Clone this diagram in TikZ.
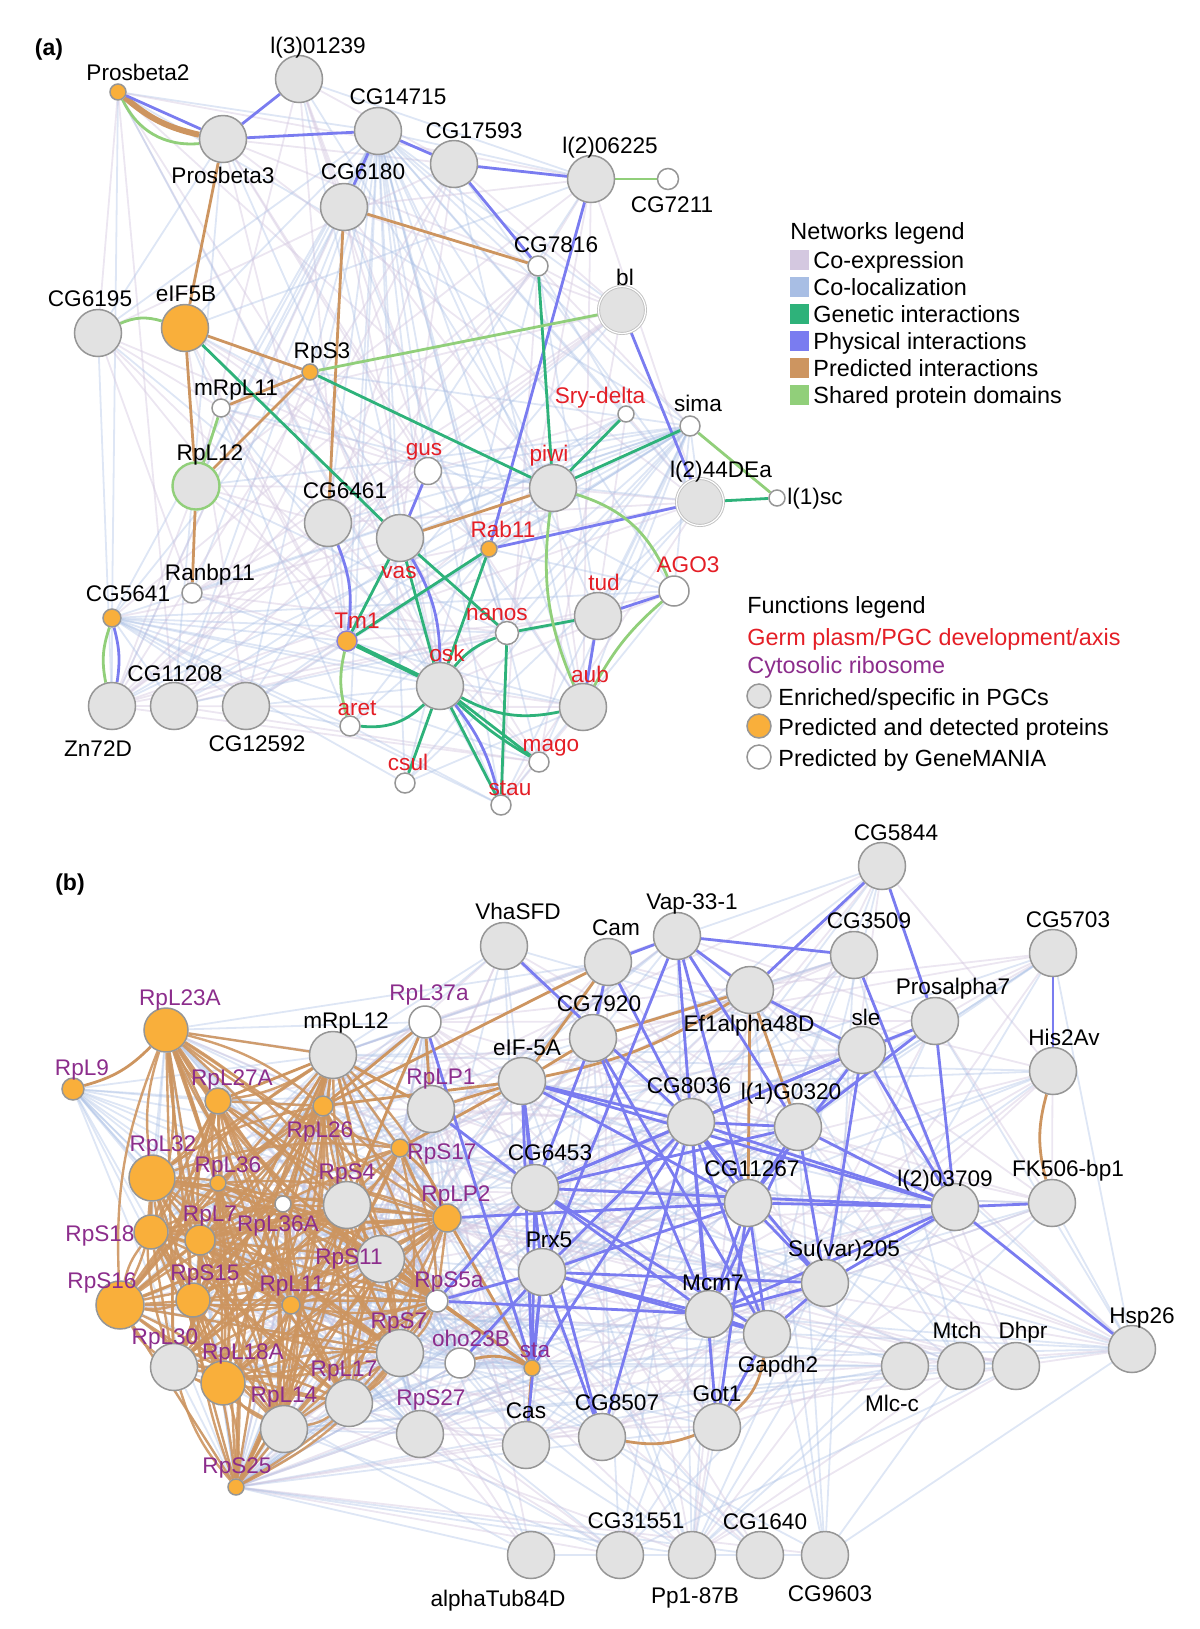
\documentclass[tikz,border=0pt]{standalone}
\usepackage{fontspec}
\setmainfont{Liberation Sans}
\usetikzlibrary{backgrounds}
\definecolor{ngray}{RGB}{150,150,150}
\definecolor{nfill}{RGB}{226,226,226}
\definecolor{norange}{RGB}{249,175,59}
\definecolor{cphys}{RGB}{122,124,240}
\definecolor{cpred}{RGB}{205,149,96}
\definecolor{cgen}{RGB}{46,178,122}
\definecolor{cshare}{RGB}{145,207,122}
\definecolor{ccoexp}{RGB}{212,200,224}
\definecolor{ccoloc}{RGB}{168,190,228}
\definecolor{lred}{RGB}{228,30,38}
\definecolor{lpurp}{RGB}{140,45,140}
\definecolor{tmb}{RGB}{140,130,210}
\tikzset{
 gn/.style={circle,inner sep=0pt,minimum size=23.5pt,fill=nfill,draw=ngray,line width=0.75pt},
 og/.style={gn,fill=norange},
 wn/.style={gn,fill=white},
 dbl/.style={draw=ngray!60,double=white,double distance=0.6pt,line width=0.45pt},
 lab/.style={anchor=base,yshift=-4pt,inner sep=0pt,font=\fontsize{11.3}{13}\selectfont},
 leg/.style={lab,anchor=base west,font=\fontsize{11.7}{13}\selectfont},
 rd/.style={text=lred}, pu/.style={text=lpurp},
 phys/.style={draw=cphys,line width=1.4pt},
 pred/.style={draw=cpred,line width=1.4pt},
 gen/.style={draw=cgen,line width=1.4pt},
 shr/.style={draw=cshare,line width=1.4pt},
 fp/.style={draw=ccoexp,line width=0.9pt,opacity=0.45},
 fb/.style={draw=ccoloc,line width=0.9pt,opacity=0.38},
 sq/.style={inner sep=0pt,minimum width=9.5pt,minimum height=10pt},
}
\newcommand\nd[6]{\node[#1] (#2) at (#3) {}; \node[lab,#6] (#2l) at (#5) {#4};}
\begin{document}
\begin{tikzpicture}[x=0.5pt,y=-0.5pt]
\useasboundingbox (0,0) rectangle (1200,1629);
\node[lab,font=\fontsize{11.5}{13}\selectfont\bfseries] (pa) at (49,47) {(a)};
\node[lab,font=\fontsize{11.5}{13}\selectfont\bfseries] (pb) at (70,882) {(b)};
% ---------------- part (a) nodes
\nd{og,minimum size=8pt}{Prosbeta2}{118,92}{Prosbeta2}{138,72}{}
\nd{gn}{L301239}{299,79}{l(3)01239}{318,45}{}
\nd{gn}{Prosbeta3}{223,139}{Prosbeta3}{223,175}{}
\nd{gn}{CG14715}{378,131}{CG14715}{398,96}{}
\nd{gn}{CG6180}{344,207}{CG6180}{363,171}{}
\nd{gn}{CG17593}{454,164}{CG17593}{474,130}{}
\nd{gn}{L206225}{591,179}{l(2)06225}{610,145}{}
\nd{wn,minimum size=10.5pt}{CG7211}{668,179}{CG7211}{672,204}{}
\nd{wn,minimum size=10pt}{CG7816}{538,266}{CG7816}{556,244}{}
\nd{gn,dbl}{bl}{622,310}{bl}{625,277}{}
\nd{gn}{CG6195}{98,333}{CG6195}{90,298}{}
\nd{og}{eIF5B}{185,328}{eIF5B}{186,293}{}
\nd{og,minimum size=8pt}{RpS3}{310,372}{RpS3}{322,350}{}
\nd{wn,minimum size=9pt}{mRpL11}{221,408}{mRpL11}{236,387}{}
\nd{wn,minimum size=8pt}{Srydelta}{626,414}{Sry-delta}{600,395}{rd}
\nd{wn,minimum size=10pt}{sima}{690,426}{sima}{698,403}{}
\nd{gn,draw=cshare,line width=1.2pt}{RpL12}{196,486}{RpL12}{210,452}{}
\nd{wn,minimum size=13.5pt}{gus}{428,471}{gus}{424,447}{rd}
\nd{gn}{piwi}{553,488}{piwi}{549,453}{rd}
\nd{gn,dbl}{L244DEa}{700,502}{l(2)44DEa}{721,469}{}
\nd{wn,minimum size=8pt}{L1sc}{777,498}{l(1)sc}{815,496}{}
\nd{gn}{CG6461}{328,523}{CG6461}{345,490}{}
\nd{gn}{vas}{400,538}{vas}{399,570}{rd}
\nd{og,minimum size=8pt}{Rab11}{489,549}{Rab11}{503,529}{rd}
\nd{wn,minimum size=15pt}{AGO3}{674,591}{AGO3}{688,564}{rd}
\nd{wn,minimum size=10pt}{Ranbp11}{192,593}{Ranbp11}{210,572}{}
\nd{gn}{tud}{598,616}{tud}{604,582}{rd}
\nd{og,minimum size=9pt}{CG5641}{112,618}{CG5641}{128,593}{}
\nd{wn,minimum size=11.5pt}{nanos}{507,633}{nanos}{497,612}{rd}
\nd{og,minimum size=10pt,draw=tmb}{Tm1}{347,641}{Tm1}{357,620}{rd}
\nd{gn}{osk}{440,686}{osk}{447,653}{rd}
\nd{gn}{aub}{583,707}{aub}{590,674}{rd}
\nd{gn}{Zn72D}{112,706}{Zn72D}{98,748}{}
\nd{gn}{CG11208}{174,706}{CG11208}{175,673}{}
\nd{gn}{CG12592}{246,706}{CG12592}{257,743}{}
\nd{wn,minimum size=10pt}{aret}{350,726}{aret}{357,707}{rd}
\nd{wn,minimum size=10pt}{mago}{539,762}{mago}{551,743}{rd}
\nd{wn,minimum size=10pt}{csul}{405,783}{csul}{408,762}{rd}
\nd{wn,minimum size=10pt}{stau}{501,805}{stau}{510,787}{rd}
% ---------------- legends
\node[leg] (nlt) at (790,231) {Networks legend};
\node[sq,fill=ccoexp] (s1) at (799.5,260) {};
\node[sq,fill=ccoloc] (s2) at (799.5,287) {};
\node[sq,fill=cgen] (s3) at (799.5,314) {};
\node[sq,fill=cphys] (s4) at (799.5,341) {};
\node[sq,fill=cpred] (s5) at (799.5,368) {};
\node[sq,fill=cshare] (s6) at (799.5,395) {};
\node[leg] (t1) at (813,260) {Co-expression};
\node[leg] (t2) at (813,287) {Co-localization};
\node[leg] (t3) at (813,314) {Genetic interactions};
\node[leg] (t4) at (813,341) {Physical interactions};
\node[leg] (t5) at (813,368) {Predicted interactions};
\node[leg] (t6) at (813,395) {Shared protein domains};
\node[leg] (flt) at (747,605) {Functions legend};
\node[leg,rd] (f1) at (747,637) {Germ plasm/PGC development/axis};
\node[leg,pu] (f2) at (747,665) {Cytosolic ribosome};
\node[gn,minimum size=12pt] (c1) at (759,696) {};
\node[og,minimum size=12pt] (c2) at (759,726) {};
\node[wn,minimum size=12pt] (c3) at (759,757) {};
\node[leg] (ct1) at (778,697) {Enriched/specific in PGCs};
\node[leg] (ct2) at (778,727) {Predicted and detected proteins};
\node[leg] (ct3) at (778,758) {Predicted by GeneMANIA};
% ---------------- part (b) nodes
\nd{og,minimum size=22pt}{RpL23A}{166,1030}{RpL23A}{180,997}{pu}
\nd{og,minimum size=11pt}{RpL9}{73,1089}{RpL9}{82,1067}{pu}
\nd{og,minimum size=13pt}{RpL27A}{218,1101}{RpL27A}{232,1077}{pu}
\nd{gn}{mRpL12}{333,1055}{mRpL12}{346,1020}{}
\nd{wn,minimum size=16pt}{RpL37a}{425,1022}{RpL37a}{429,992}{pu}
\nd{og,minimum size=10pt}{RpL26}{323,1106}{RpL26}{320,1129}{pu}
\nd{gn}{RpLP1}{431,1109}{RpLP1}{441,1076}{pu}
\nd{og,minimum size=9pt}{RpS17}{400,1148}{RpS17}{442,1151}{pu}
\nd{og,minimum size=23pt}{RpL32}{152,1178}{RpL32}{163,1143}{pu}
\nd{og,minimum size=8pt}{RpL36}{218,1183}{RpL36}{228,1164}{pu}
\nd{gn}{RpS4}{347,1205}{RpS4}{347,1171}{pu}
\nd{wn,minimum size=8pt}{RpL36A}{283,1204}{RpL36A}{278,1223}{pu}
\nd{og,minimum size=14pt}{RpLP2}{447,1218}{RpLP2}{456,1193}{pu}
\nd{og,minimum size=15pt}{RpL7}{200,1240}{RpL7}{210,1213}{pu}
\nd{og,minimum size=17pt}{RpS18}{151,1232}{RpS18}{100,1233}{pu}
\nd{gn}{RpS11}{381,1259}{RpS11}{349,1256}{pu}
\nd{og,minimum size=24pt}{RpS16}{120,1305}{RpS16}{102,1280}{pu}
\nd{og,minimum size=17pt}{RpS15}{193,1300}{RpS15}{205,1272}{pu}
\nd{og,minimum size=9pt}{RpL11}{291,1305}{RpL11}{292,1283}{pu}
\nd{wn,minimum size=11pt}{RpS5a}{437,1301}{RpS5a}{449,1279}{pu}
\nd{gn}{RpS7}{400,1353}{RpS7}{399,1320}{pu}
\nd{gn}{RpL30}{174,1367}{RpL30}{165,1336}{pu}
\nd{og,minimum size=22pt}{RpL18A}{223,1383}{RpL18A}{243,1351}{pu}
\nd{wn,minimum size=15pt}{oho23B}{460,1363}{oho23B}{471,1338}{pu}
\nd{og,minimum size=8pt}{sta}{532,1368}{sta}{535,1349}{pu}
\nd{gn}{RpL17}{349,1403}{RpL17}{344,1368}{pu}
\nd{gn}{RpL14}{284,1429}{RpL14}{284,1394}{pu}
\nd{gn}{RpS27}{420,1434}{RpS27}{431,1397}{pu}
\nd{og,minimum size=8pt}{RpS25}{236,1487}{RpS25}{237,1465}{pu}
\nd{gn}{VhaSFD}{504,946}{VhaSFD}{518,911}{}
\nd{gn}{Cam}{608,962}{Cam}{616,927}{}
\nd{gn}{Vap331}{677,936}{Vap-33-1}{692,901}{}
\nd{gn}{CG5844}{882,866}{CG5844}{896,832}{}
\nd{gn}{CG3509}{854,955}{CG3509}{869,920}{}
\nd{gn}{CG5703}{1053,953}{CG5703}{1068,919}{}
\nd{gn}{Ef1a}{750,990}{Ef1alpha48D}{749,1023}{}
\nd{gn}{CG7920}{593,1038}{CG7920}{599,1003}{}
\nd{gn}{Prosalpha7}{935,1021}{Prosalpha7}{953,986}{}
\nd{gn}{sle}{862,1050}{sle}{866,1017}{}
\nd{gn}{His2Av}{1053,1071}{His2Av}{1064,1037}{}
\nd{gn}{eIF5A}{522,1081}{eIF-5A}{527,1047}{}
\nd{gn}{CG8036}{691,1122}{CG8036}{689,1085}{}
\nd{gn}{lG0320}{798,1127}{l(1)G0320}{791,1091}{}
\nd{gn}{CG6453}{535,1188}{CG6453}{550,1152}{}
\nd{gn}{CG11267}{748,1203}{CG11267}{752,1168}{}
\nd{gn}{l203709}{955,1207}{l(2)03709}{945,1178}{}
\nd{gn}{FK506}{1052,1203}{FK506-bp1}{1068,1168}{}
\nd{gn}{Prx5}{542,1272}{Prx5}{549,1239}{}
\nd{gn}{Suvar}{825,1283}{Su(var)205}{844,1248}{}
\nd{gn}{Mcm7}{709,1314}{Mcm7}{713,1282}{}
\nd{gn}{Gapdh2}{767,1334}{Gapdh2}{778,1364}{}
\nd{gn}{Hsp26}{1132,1349}{Hsp26}{1142,1315}{}
\nd{gn}{Mlcc}{905,1366}{Mlc-c}{892,1403}{}
\nd{gn}{Mtch}{961,1366}{Mtch}{957,1330}{}
\nd{gn}{Dhpr}{1016,1366}{Dhpr}{1023,1330}{}
\nd{gn}{Got1}{717,1427}{Got1}{717,1393}{}
\nd{gn}{Cas}{526,1445}{Cas}{526,1410}{}
\nd{gn}{CG8507}{602,1437}{CG8507}{617,1402}{}
\nd{gn}{aTub}{531,1555}{alphaTub84D}{498,1598}{}
\nd{gn}{CG31551}{620,1555}{CG31551}{636,1520}{}
\nd{gn}{Pp187B}{692,1555}{Pp1-87B}{695,1595}{}
\nd{gn}{CG1640}{760,1555}{CG1640}{765,1521}{}
\nd{gn}{CG9603}{825,1555}{CG9603}{830,1593}{}
% ---------------- edges
\def\LA{Prosbeta2,L301239,Prosbeta3,CG14715,CG6180,CG17593,L206225,CG7816,bl,CG6195,eIF5B,RpS3,mRpL11,Srydelta,sima,RpL12,gus,piwi,L244DEa,CG6461,vas,Rab11,AGO3,Ranbp11,tud,CG5641,nanos,Tm1,osk,aub,Zn72D,CG11208,CG12592,aret,mago,csul,stau}
\def\LRB{RpL9,RpL23A,RpL27A,mRpL12,RpL37a,RpL26,RpLP1,RpS17,RpL32,RpL36,RpS4,RpL36A,RpLP2,RpL7,RpS18,RpS11,RpS16,RpS15,RpL11,RpS5a,RpS7,RpL30,RpL18A,oho23B,sta,RpL17,RpL14,RpS27,RpS25}
\def\LR{RpL23A,RpL27A,mRpL12,RpL26,RpL32,RpL36,RpS4,RpL36A,RpL7,RpS18,RpS16,RpS15,RpL11,RpS11,RpL30,RpL18A,RpL14,RpL17,RpS7,RpS17,RpLP2,RpS25,RpS5a}
\def\LB{VhaSFD,Cam,Vap331,CG5844,CG3509,CG5703,Ef1a,CG7920,Prosalpha7,sle,His2Av,eIF5A,CG8036,lG0320,CG6453,CG11267,l203709,FK506,Prx5,Suvar,Mcm7,Gapdh2,Hsp26,Mlcc,Mtch,Dhpr,Got1,Cas,CG8507,aTub,CG31551,Pp187B,CG1640,CG9603,RpLP1,RpL37a,mRpL12,RpS27,RpL17,RpL14,RpS25,sta,oho23B}
\begin{scope}[on background layer]
% faint (a)
\foreach \a [count=\i] in \LA {
  \foreach \b [count=\j] in \LA {
    \ifnum\j>\i
      \pgfmathtruncatemacro\h{mod(\i*\i*7+\j*13+\i*\j*5,11)}
      \ifnum\h<2 \draw[fp] (\a)--(\b);\fi
      \ifnum\h=2 \draw[fb] (\a)--(\b);\fi
    \fi
  }
}
% faint (b) ribosome mesh
\foreach \a [count=\i] in \LRB {
  \foreach \b [count=\j] in \LRB {
    \ifnum\j>\i
      \pgfmathtruncatemacro\h{mod(\i*3+\j*7+\i*\j,5)}
      \ifnum\h<3 \draw[fb] (\a)--(\b);\fi
    \fi
  }
}
% faint (b) right mesh
\foreach \a [count=\i] in \LB {
  \foreach \b [count=\j] in \LB {
    \ifnum\j>\i
      \pgfmathtruncatemacro\h{mod(\i*\i*5+\j*11+\i*\j*3,9)}
      \ifnum\h=0 \draw[fp] (\a)--(\b);\fi
      \ifnum\h=1 \draw[fb] (\a)--(\b);\fi
    \fi
  }
}
% faint cross
\foreach \a [count=\i] in \LR {
  \foreach \b [count=\j] in \LB {
    \pgfmathtruncatemacro\h{mod(\i*5+\j*3+\i*\j,13)}
    \ifnum\h=0 \draw[fb] (\a)--(\b);\fi
    \ifnum\h=1 \draw[fp] (\a)--(\b);\fi
  }
}
% ---- strong (a)
\draw[shr] (Prosbeta2) to[bend right=35] (Prosbeta3);
\draw[pred,line width=3pt] (Prosbeta2) to[bend right=14] (Prosbeta3);
\draw[phys] (Prosbeta2) -- (Prosbeta3);
\foreach \u/\v in {Prosbeta3/L301239,Prosbeta3/CG14715,CG14715/CG17593,CG14715/CG6180,CG17593/L206225,CG17593/CG7816,L206225/Rab11,bl/L244DEa,Rab11/L244DEa,tud/AGO3,tud/aub,gus/vas}
  \draw[phys] (\u) -- (\v);
\draw[phys] (CG6461) to[bend left=15] (Tm1);
\draw[phys] (vas) to[bend left=15] (osk);
\draw[phys] (osk) to[bend left=12] (stau);
\draw[phys] (CG5641) to[bend left=12] (Zn72D);
\foreach \u/\v in {Prosbeta3/eIF5B,CG6180/CG7816,CG6180/CG6461,eIF5B/RpS3,eIF5B/RpL12,RpS3/mRpL11,RpS3/RpL12,RpL12/Ranbp11,vas/piwi}
  \draw[pred] (\u) -- (\v);
\foreach \u/\v in {eIF5B/vas,RpS3/piwi,CG7816/piwi,piwi/Srydelta,piwi/sima,L244DEa/L1sc,vas/Tm1,vas/nanos,vas/osk,Rab11/Tm1,Rab11/osk,nanos/tud,nanos/stau,osk/mago,osk/stau,osk/csul}
  \draw[gen] (\u) -- (\v);
\draw[gen,line width=2.2pt] (Tm1) -- (osk);
\draw[gen] (osk) to[bend right=6] (mago);
\draw[gen] (aret) to[bend right=25] (osk);
\draw[gen] (nanos) to[bend right=15] (osk);
\draw[gen] (osk) to[bend right=20] (aub);
\foreach \u/\v in {mRpL11/RpL12,RpS3/bl,L206225/CG7211,sima/L1sc}
  \draw[shr] (\u) -- (\v);
\draw[shr] (CG6195) to[bend left=20] (eIF5B);
\draw[shr] (piwi) to[bend right=15] (aub);
\draw[shr] (piwi) to[bend left=25] (AGO3);
\draw[shr] (AGO3) to[bend right=10] (aub);
\draw[shr] (Tm1) to[bend right=15] (aret);
\draw[shr] (CG5641) to[bend right=15] (Zn72D);
% ---- strong (b)
\foreach \a [count=\i] in \LR {
  \foreach \b [count=\j] in \LR {
    \ifnum\j>\i
      \pgfmathtruncatemacro\h{mod(\i*7+\j*3+\i*\j,6)}
      \ifnum\h>0
        \pgfmathtruncatemacro\bb{mod(\i+2*\j,3)}
        \ifcase\bb \draw[pred,line width=1.2pt,opacity=0.9] (\a) to[bend left=12] (\b);
        \or \draw[pred,line width=1.2pt,opacity=0.9] (\a) -- (\b);
        \or \draw[pred,line width=1.2pt,opacity=0.9] (\a) to[bend right=12] (\b);
        \fi
      \fi
    \fi
  }
}
\draw[pred] (RpL9) to[bend right=15] (RpL23A);
\foreach \u/\v in {RpL37a/RpLP1,RpL37a/RpL26,RpL37a/RpS4,RpLP1/eIF5A,RpLP1/mRpL12,eIF5A/Cam,eIF5A/CG7920,CG7920/Ef1a,Cam/RpL26,eIF5A/RpL26,eIF5A/RpS17,Ef1a/lG0320,Ef1a/CG11267,sta/Cas,sta/RpS5a,sta/RpS11,sta/RpLP2,mRpL12/RpL27A}
  \draw[pred] (\u) -- (\v);
\draw[pred] (eIF5A) to[bend right=10] (Ef1a);
\draw[pred] (RpS17) to[bend left=15] (RpLP2);
\draw[pred] (His2Av) to[bend right=15] (FK506);
\draw[pred] (CG8507) to[bend right=15] (Got1);
\draw[pred] (Gapdh2) to[bend left=20] (Got1);
\draw[pred] (sta) to[bend right=20] (oho23B);
\foreach \u/\v in {Vap331/Cam,Vap331/CG3509,Vap331/CG8036,Vap331/Ef1a,Vap331/lG0320,Vap331/Prx5,Vap331/CG11267,Cam/CG8036,Cam/CG7920,VhaSFD/CG8036,CG5844/Ef1a,CG5844/Prosalpha7,CG3509/l203709,CG5703/His2Av,Prosalpha7/sle,Prosalpha7/lG0320,Prosalpha7/l203709,sle/Ef1a,sle/CG8036,sle/Suvar,sle/l203709,lG0320/l203709,l203709/FK506,l203709/Hsp26,l203709/CG11267,l203709/CG8036,l203709/Suvar,l203709/Mcm7,l203709/CG6453,l203709/eIF5A,CG7920/CG6453,CG7920/Mcm7,CG7920/Gapdh2,eIF5A/CG8036,eIF5A/CG6453,eIF5A/CG11267,eIF5A/Prx5,RpLP1/CG6453,RpLP2/CG11267,CG6453/CG8036,CG6453/lG0320,CG6453/Mcm7,CG6453/Gapdh2,CG6453/sle,Prx5/CG8036,Prx5/CG11267,Prx5/Mcm7,Prx5/Gapdh2,Prx5/CG8507,Prx5/Cas,Prx5/Suvar,CG8036/lG0320,CG8036/CG11267,CG8036/Mcm7,CG8036/Gapdh2,CG8036/Suvar,CG8036/CG8507,CG8036/Got1,lG0320/CG11267,lG0320/Suvar,lG0320/Mcm7,CG11267/Mcm7,CG11267/Gapdh2,CG11267/Suvar,CG11267/Got1,CG11267/sle,Suvar/Mcm7,Suvar/Gapdh2,Mcm7/Gapdh2,Mcm7/RpS5a,Gapdh2/Got1,sta/Prx5,sta/CG6453,sta/eIF5A,sta/CG8036,RpS5a/Prx5,RpS5a/CG6453,CG8507/CG6453,RpL37a/sta,oho23B/Prx5}
  \draw[phys] (\u) -- (\v);
\end{scope}
\end{tikzpicture}
\end{document}
